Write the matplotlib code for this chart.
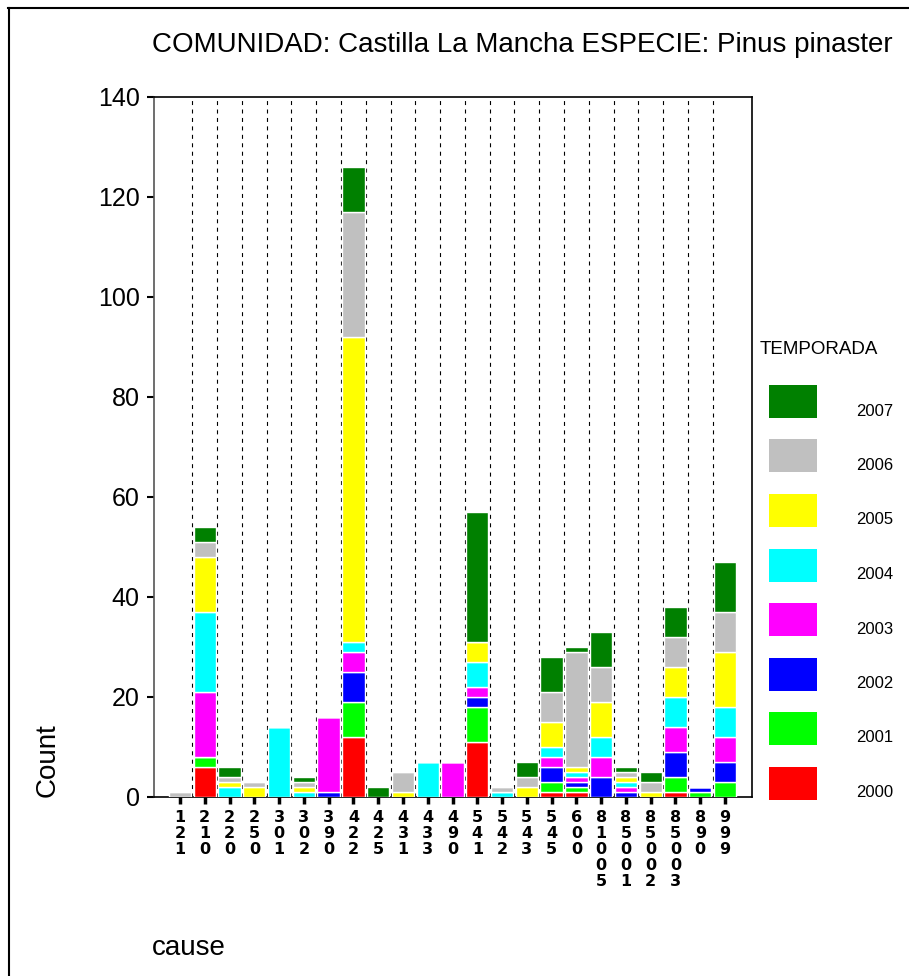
import matplotlib
matplotlib.use("Agg")
import matplotlib.pyplot as plt
from matplotlib.patches import Rectangle
from matplotlib.lines import Line2D
import numpy as np

plt.rcParams['font.family'] = ['Liberation Sans', 'DejaVu Sans']

# datos
causes = ['121', '210', '220', '250', '301', '302', '390', '422', '425', '431', '433', '490',
          '541', '542', '543', '545', '600', '81005', '85001', '85002', '85003', '890', '999']
years = ['2000', '2001', '2002', '2003', '2004', '2005', '2006', '2007']
c2000 = [0, 6, 0, 0, 0, 0, 0, 12, 0, 0, 0, 0, 11, 0, 0, 1, 1, 0, 0, 0, 1, 0, 0]
c2001 = [0, 2, 0, 0, 0, 0, 0, 7, 0, 0, 0, 0, 7, 0, 0, 2, 1, 0, 0, 0, 3, 1, 3]
c2002 = [0, 0, 0, 0, 0, 0, 1, 6, 0, 0, 0, 0, 2, 0, 0, 3, 1, 4, 1, 0, 5, 1, 4]
c2003 = [0, 13, 0, 0, 0, 0, 15, 4, 0, 0, 0, 7, 2, 0, 0, 2, 1, 4, 1, 0, 5, 0, 5]
c2004 = [0, 16, 2, 0, 14, 1, 0, 2, 0, 0, 7, 0, 5, 1, 0, 2, 1, 4, 1, 0, 6, 0, 6]
c2005 = [0, 11, 1, 2, 0, 1, 0, 61, 0, 1, 0, 0, 4, 0, 2, 5, 1, 7, 1, 1, 6, 0, 11]
c2006 = [1, 3, 1, 1, 0, 1, 0, 25, 0, 4, 0, 0, 0, 1, 2, 6, 23, 7, 1, 2, 6, 0, 8]
c2007 = [0, 3, 2, 0, 0, 1, 0, 9, 2, 0, 0, 0, 26, 0, 3, 7, 1, 7, 1, 2, 6, 0, 10]
series = [c2000, c2001, c2002, c2003, c2004, c2005, c2006, c2007]
colors = ['#ff0000', '#00ff00', '#0000ff', '#ff00ff', '#00ffff', '#ffff00', '#c0c0c0', '#008000']

W, H = 909, 976
fig = plt.figure(figsize=(W / 100, H / 100), dpi=100)
ax = fig.add_axes([153.5 / W, 1 - 797 / H, (751.5 - 153.5) / W, (797 - 97) / H])

x = np.arange(len(causes))
bottom = np.zeros(len(causes))
for vals, col in zip(series, colors):
    ax.bar(x, vals, bottom=bottom, width=0.9, color=col, edgecolor='white', linewidth=1, zorder=3)
    bottom += np.array(vals)

# separadores discontinuos
for i in range(len(causes) - 1):
    ax.axvline(i + 0.5, color='black', linewidth=0.8, dashes=(3.6, 4.0), zorder=1)

ax.set_xlim(-1.07, len(causes) - 1 + 1.07)
ax.set_ylim(0, 140)
ax.set_yticks(range(0, 141, 20))
ax.tick_params(axis='y', direction='out', length=5, width=1.5, labelsize=18, pad=5)
ax.set_xticks(x)
ax.set_xticklabels(['\n'.join(c) for c in causes], family=['Liberation Sans Narrow', 'DejaVu Sans'],
                   fontweight='bold', fontsize=11.5, linespacing=1.1, va='top')
ax.tick_params(axis='x', direction='out', length=5, width=2.5, pad=4)
for s in ax.spines.values():
    s.set_linewidth(1.2)
ax.spines['left'].set_color('#555555')

# textos
fig.text(152 / W, 1 - 45 / H, 'COMUNIDAD: Castilla La Mancha ESPECIE: Pinus pinaster',
         fontsize=20, ha='left', va='center')
fig.text(48 / W, 1 - 797 / H, 'Count', fontsize=20, rotation=90, ha='center', va='bottom')
fig.text(152 / W, 1 - 948 / H, 'cause', fontsize=20, ha='left', va='center')

# leyenda
fig.text(760 / W, 1 - 349 / H, 'TEMPORADA', fontsize=13.5, ha='left', va='center')
for k in range(len(years)):
    j = len(years) - 1 - k
    top = 385 + k * 54.5
    fig.patches.append(Rectangle((769 / W, 1 - (top + 33) / H), 48 / W, 33 / H,
                                 facecolor=colors[j], edgecolor='none', transform=fig.transFigure))
    fig.text(856 / W, 1 - (top + 26) / H, years[j], fontsize=12, ha='left', va='center')

# marco exterior
fig.add_artist(Line2D([8 / W, 1], [1 - 7.5 / H, 1 - 7.5 / H], color='black', linewidth=1.5,
                      transform=fig.transFigure))
fig.add_artist(Line2D([8.5 / W, 8.5 / W], [0, 1 - 7.5 / H], color='black', linewidth=1.5,
                      transform=fig.transFigure))

fig.savefig('out.png', dpi=100)
